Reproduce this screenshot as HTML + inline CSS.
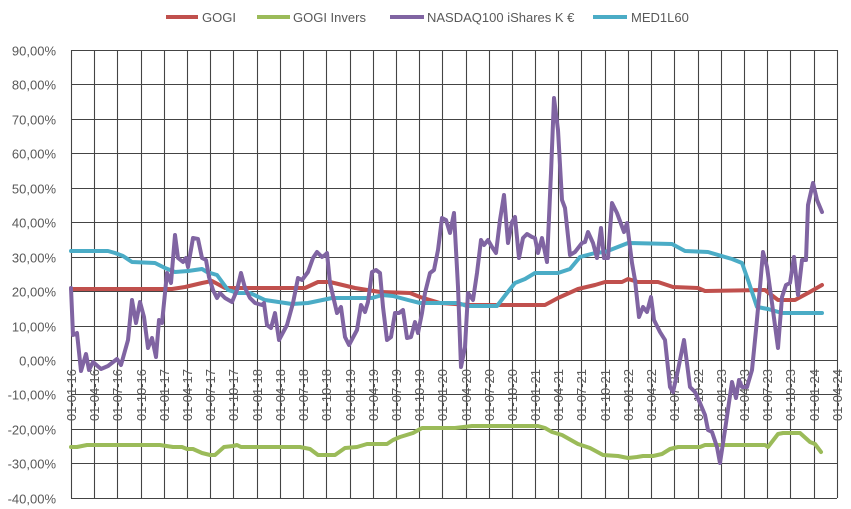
<!DOCTYPE html>
<html><head><meta charset="utf-8"><style>
body{margin:0;background:#fff}
svg{display:block;font-family:"Liberation Sans",sans-serif}
</style></head><body>
<svg id="c" width="851" height="509" xmlns="http://www.w3.org/2000/svg">
<g id="grid" stroke="#444" stroke-width="1.1"></g>
<g id="yl" font-size="13" fill="#595959" text-anchor="end"></g>
<g id="xl" font-size="13" fill="#595959" text-anchor="end"></g>
<g fill="none" stroke-width="4" stroke-linejoin="round" stroke-linecap="round">
<polyline id="green" stroke="#9bbb59"/>
<polyline id="red" stroke="#c0504d"/>
<polyline id="teal" stroke="#4bacc6"/>
<polyline id="purple" stroke="#8064a2"/>
</g>
<g font-size="13" fill="#595959">
<line x1="166" y1="17" x2="198" y2="17" stroke="#c0504d" stroke-width="4"/><text x="202" y="22">GOGI</text>
<line x1="257" y1="17" x2="290" y2="17" stroke="#9bbb59" stroke-width="4"/><text x="293" y="22">GOGI Invers</text>
<line x1="390" y1="17" x2="424" y2="17" stroke="#8064a2" stroke-width="4"/><text x="427" y="22">NASDAQ100 iShares K €</text>
<line x1="593" y1="17" x2="627" y2="17" stroke="#4bacc6" stroke-width="4"/><text x="631" y="22">MED1L60</text>
</g>
</svg>
<script>
var ns="http://www.w3.org/2000/svg";
function el(p,t,a,tx){var e=document.createElementNS(ns,t);for(var k in a)e.setAttribute(k,a[k]);if(tx!==undefined)e.textContent=tx;document.getElementById(p).appendChild(e);}
var L=71,R=837,T=50,B=497.8;
for(var i=0;i<=13;i++){var v=90-10*i;var y=T+i*(B-T)/13;y=Math.round(y)+0.5;
el("grid","line",{x1:L,x2:R,y1:y,y2:y});
el("yl","text",{x:56,y:y+5},(v.toFixed(2).replace(".",","))+"%");}
var d=[0,91,182,274,366,456,547,639,731,821,912,1004,1096,1186,1277,1369,1461,1552,1643,1735,1827,1917,2008,2100,2192,2282,2373,2465,2557,2647,2738,2830,2922,3013];
var mm=["01","04","07","10"];
for(var i=0;i<d.length;i++){var x=Math.round(L+d[i]*(R-L)/3013)+0.5;
el("grid","line",{x1:x,x2:x,y1:T,y2:498});
var yr=16+Math.floor(i/4);var lab="01-"+mm[i%4]+"-"+yr;
el("xl","text",{x:0,y:0,transform:"translate("+(x+4.5)+",369) rotate(-90)"},lab);}
function pts(id,s){document.getElementById(id).setAttribute("points",s);}
pts("purple","71,288 73,335 77,333 81,371 86,354 89,370 93,362 101,369 108,366 117,359 121,365 128,340 132,300 136,323 140,302 144,317 148,348 152,338 156,357 159,320 162,323 167,273 171,283 175,235 178,258 183,262 186,258 188,267 193,238 198,239 202,258 206,260 209,277 213,290 217,298 220,293 225,298 232,302 237,290 241,273 245,288 250,298 255,303 262,305 264,303 267,325 271,328 275,313 279,340 287,325 293,303 298,278 302,280 308,272 313,258 317,252 322,257 325,255 327,253 330,283 337,313 341,307 345,337 349,345 357,330 361,305 365,312 368,302 372,272 376,270 380,273 383,307 387,340 391,337 395,313 399,313 403,310 407,338 411,337 415,322 418,333 422,313 425,293 430,273 434,270 438,250 442,218 446,220 450,233 454,213 458,287 461,367 465,347 468,293 473,300 477,273 481,240 484,245 488,240 492,247 496,253 500,220 504,195 508,243 512,222 515,217 519,258 523,238 527,234 532,237 535,238 538,253 542,238 547,262 551,173 554,98 558,130 562,200 565,208 570,255 575,252 582,243 585,242 588,232 593,243 597,258 601,228 604,258 608,258 612,203 617,213 624,232 627,223 632,263 635,280 639,317 643,307 647,312 651,297 654,320 660,332 665,340 670,387 673,392 678,370 684,340 690,387 695,392 700,403 705,415 708,430 712,432 717,447 720,463 725,430 732,382 736,398 739,380 742,387 747,387 752,370 756,330 760,287 763,252 767,267 772,303 778,348 782,297 786,285 790,283 794,257 798,295 802,260 806,260 808,205 813,183 817,200 822,212");
pts("red","71,289 172,289 185,287 202,283 212,281 225,288 305,288 318,282 330,282 355,288 380,292 410,293 420,297 440,303 470,305 545,305 558,298 578,289 595,285 605,282 622,282 628,279 638,282 658,282 673,287 698,288 705,291 765,290 778,300 795,300 808,293 822,285");
pts("teal","71,251 108,251 115,253 123,256 132,262 155,263 165,268 175,272 188,271 202,269 207,272 217,275 228,290 238,293 250,293 265,300 292,304 308,303 332,298 372,298 382,295 393,296 408,300 420,303 458,303 467,306 497,306 507,293 515,283 525,279 535,273 558,273 570,269 580,257 595,253 605,252 628,243 672,244 685,251 708,252 725,257 732,259 742,263 748,280 757,307 768,309 782,313 822,313");
pts("green","71,447 77,447 87,445 160,445 173,447 182,447 187,449 193,449 202,453 210,455 215,455 224,447 233,446 237,445 241,447 300,447 310,449 318,455 335,455 345,448 357,447 367,444 387,444 393,440 400,437 413,433 422,428 455,428 472,426 538,426 545,428 552,432 562,435 578,444 590,448 603,455 618,456 628,458 637,457 643,456 653,456 662,454 670,449 678,447 700,447 705,445 765,445 768,447 778,434 783,433 800,433 810,442 815,444 821,452");
</script>
</body></html>
